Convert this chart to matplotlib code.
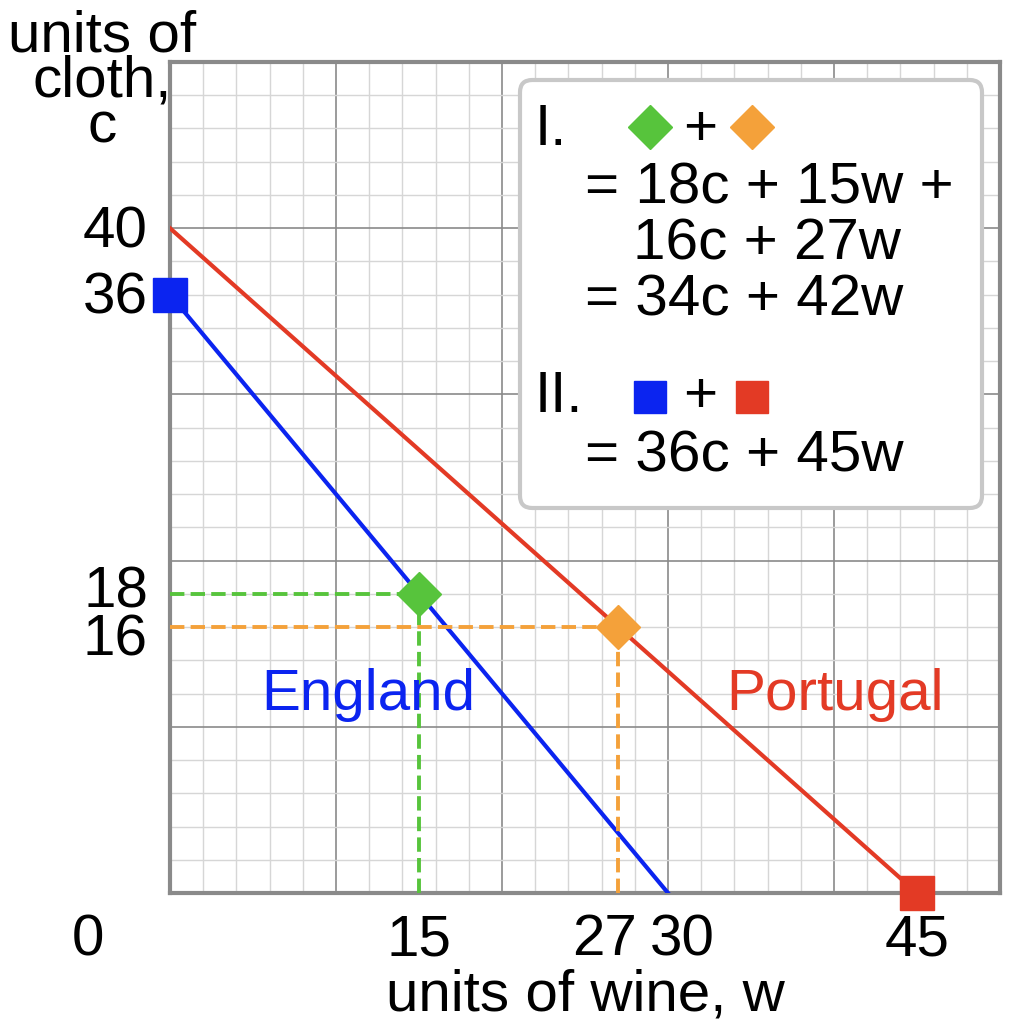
import matplotlib
matplotlib.use("Agg")
import matplotlib.pyplot as plt
from matplotlib.patches import FancyBboxPatch

plt.rcParams["font.family"] = ["Liberation Sans", "DejaVu Sans"]

W, H = 1021, 1024
BLUE = "#0b24f0"
RED = "#e33a25"
GREEN = "#57c43c"
ORANGE = "#f4a13a"

england_x = [0, 30]
england_y = [36, 0]
portugal_x = [0, 45]
portugal_y = [40, 0]
eng_point = (15, 18)
por_point = (27, 16)
x_ticks = [0, 15, 27, 30, 45]
y_ticks = [40, 36, 18, 16]

fig = plt.figure(figsize=(W / 100, H / 100), dpi=100)
ax = fig.add_axes([170 / W, 1 - 893 / H, 830 / W, 831 / H])
ax.set_xlim(0, 50)
ax.set_ylim(0, 50)
ax.set_xticks(range(0, 51, 10))
ax.set_yticks(range(0, 51, 10))
ax.set_xticks(range(0, 51, 2), minor=True)
ax.set_yticks(range(0, 51, 2), minor=True)
ax.grid(which="minor", color="#d6d6d6", linewidth=1)
ax.grid(which="major", color="#8a8a8a", linewidth=1.2)
ax.tick_params(which="both", length=0, labelbottom=False, labelleft=False)
ax.set_axisbelow(True)
for s in ax.spines.values():
    s.set_color("#8a8a8a")
    s.set_linewidth(3)

ax.plot(england_x, england_y, color=BLUE, lw=3, zorder=3)
ax.plot(portugal_x, portugal_y, color=RED, lw=3, zorder=3)
for (px, py), c in [(eng_point, GREEN), (por_point, ORANGE)]:
    ax.plot([0, px], [py, py], ls="--", color=c, lw=2.8, zorder=3)
    ax.plot([px, px], [0, py], ls="--", color=c, lw=2.8, zorder=3)
    ax.plot(px, py, marker="D", ms=22, color=c, zorder=5, clip_on=False)
ax.plot(england_x[0], england_y[0], marker="s", ms=25, color=BLUE, zorder=5, clip_on=False)
ax.plot(portugal_x[1], portugal_y[1], marker="s", ms=25, color=RED, zorder=5, clip_on=False)

fs = 42
for x in x_ticks:
    xp = 88 if x == 0 else 170 + x * 16.6
    if x == 27:
        xp -= 14
    if x == 30:
        xp += 14
    fig.text(xp / W, 1 - 940 / H, str(x), ha="center", va="center", fontsize=fs)
ypos = {40: 232, 36: 298, 18: 592, 16: 640}
for y in y_ticks:
    fig.text(148 / W, 1 - ypos[y] / H, str(y), ha="right", va="center", fontsize=fs)

fig.text(585 / W, 1 - 995 / H, "units of wine, w", ha="center", va="center", fontsize=fs)
fig.text(102 / W, 1 - 82 / H, "units of\ncloth,\nc", ha="center", va="center",
         fontsize=fs, linespacing=0.8)
fig.text(368 / W, 1 - 695 / H, "England", ha="center", va="center", fontsize=fs, color=BLUE)
fig.text(835 / W, 1 - 695 / H, "Portugal", ha="center", va="center", fontsize=fs, color=RED)

box = FancyBboxPatch((520 / W, 1 - 508 / H), 462 / W, 428 / H,
                     boxstyle="round,pad=0,rounding_size=0.012",
                     transform=fig.transFigure, facecolor="white",
                     edgecolor="#c8c8c8", linewidth=3, zorder=10)
fig.patches.append(box)

def t(x, y, s, **kw):
    fig.text(x / W, 1 - y / H, s, va="center", fontsize=fs, zorder=11, **kw)

t(535, 130, "I.")
t(700, 130, "+", ha="center")
t(585, 188, "= 18c + 15w +")
t(633, 245, "16c + 27w")
t(585, 300, "= 34c + 42w")
t(535, 397, "II.")
t(700, 397, "+", ha="center")
t(585, 457, "= 36c + 45w")
for x, y, m, c, ms in [(650, 127, "D", GREEN, 22), (752, 127, "D", ORANGE, 22),
                       (650, 397, "s", BLUE, 23), (752, 397, "s", RED, 23)]:
    fig.add_artist(plt.Line2D([x / W], [1 - y / H], marker=m, ms=ms, color=c,
                              transform=fig.transFigure, zorder=12))

fig.savefig("out.png", dpi=100, facecolor="white")
